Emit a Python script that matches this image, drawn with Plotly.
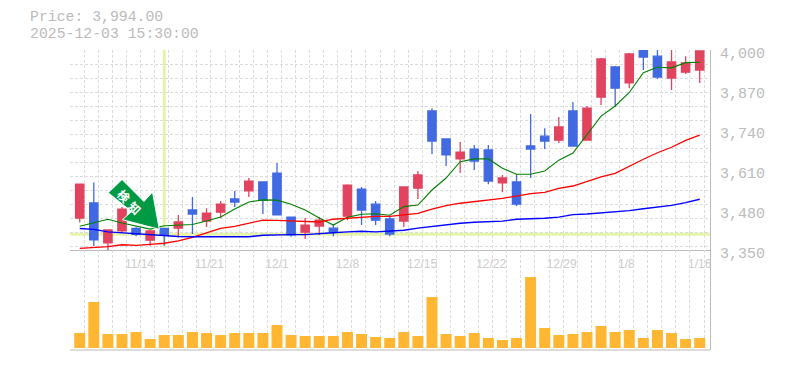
import plotly.graph_objects as go

dates = ["11/10","11/11","11/12","11/13","11/14","11/17","11/18","11/19","11/20","11/21",
         "11/25","11/26","11/27","11/28","12/1","12/2","12/3","12/4","12/5","12/8",
         "12/9","12/10","12/11","12/12","12/15","12/16","12/17","12/18","12/19","12/22",
         "12/23","12/24","12/25","12/26","12/29","12/30","1/5","1/6","1/7","1/8",
         "1/9","1/13","1/14","1/15","1/16"]
opens = [3454,3503,3373,3412,3420,3382,3420,3421,3480,3444,3473,3516,3542,3571,3600,3457,3408,3428,3421,3460,
         3548,3499,3451,3444,3551,3802,3711,3646,3678,3675,3568,3571,3688,3720,3707,3802,3707,3847,3945,3893,
         4003,3980,3909,3928,3935]
closes = [3564,3383,3415,3483,3401,3412,3398,3441,3467,3470,3499,3506,3574,3512,3464,3399,3431,3447,3408,3561,
          3480,3447,3402,3555,3594,3704,3659,3668,3639,3574,3584,3499,3678,3704,3750,3688,3811,3971,3876,3987,
          3977,3912,3961,3958,3997]
highs = [3566,3569,3415,3490,3425,3415,3421,3464,3522,3486,3509,3542,3584,3571,3633,3457,3454,3457,3434,3564,
         3555,3509,3460,3555,3607,3811,3711,3701,3691,3691,3594,3597,3792,3746,3782,3831,3818,3974,3948,3990,
         4016,4006,4006,3980,3997]
lows = [3439,3363,3348,3405,3395,3364,3364,3391,3402,3425,3454,3490,3522,3467,3464,3393,3386,3399,3395,3447,
        3431,3431,3395,3425,3516,3662,3623,3600,3610,3564,3538,3493,3584,3678,3698,3688,3707,3821,3815,3876,
        3935,3906,3870,3922,3893]
ma_short = [3427,3438,3450,3438,3428,3418,3429,3431,3433,3444,3457,3483,3506,3513,3512,3499,3480,3454,3431,3456,
            3466,3468,3463,3491,3496,3545,3584,3637,3646,3646,3616,3596,3596,3607,3642,3665,3727,3785,3818,3862,
            3926,3944,3942,3959,3960]
ma_mid = [3355,3357,3361,3367,3365,3368,3372,3380,3391,3406,3420,3427,3438,3447,3446,3444,3443,3441,3450,3453,
          3457,3459,3459,3464,3469,3483,3494,3502,3507,3512,3518,3525,3533,3537,3550,3558,3572,3588,3599,3623,
          3645,3666,3684,3706,3723]
ma_long = [3420,3417,3409,3406,3402,3399,3395,3394,3393,3393,3392,3393,3393,3398,3400,3400,3400,3404,3406,3409,
           3411,3409,3412,3414,3421,3427,3431,3437,3440,3442,3444,3450,3451,3453,3457,3465,3467,3470,3473,3478,
           3484,3489,3495,3504,3515]
volumes = [15,46,14,14,16,9,13,13,16,15,13,15,15,15,23,13,12,12,12,16,14,11,10,16,12,51,14,12,15,10,8,10,71,20,13,14,16,22,16,18,10,18,15,9,10]

price_ticks = [3350,3480,3610,3740,3870,4000]
price_labels = ["3,350","3,480","3,610","3,740","3,870","4,000"]
date_tick_pos = [4.24,9.2,14.0,19.0,24.3,29.2,34.2,38.8,44.0]
date_tick_labels = ["11/14","11/21","12/1","12/8","12/15","12/22","12/29","1/8","1/16"]
cross_index = 6
cross_price = 3401

W, H = 785, 370
L, R, T, B = 70, 75, 50, 20
PW, PH = W - L - R, H - T - B
def fx(px): return (px - L) / PW
def fy(py): return (H - B - py) / PH

xs = list(range(len(dates)))
fig = go.Figure()
for vals, col, lw in ((ma_short, "#008000", 1.1), (ma_mid, "#ff0000", 1.3), (ma_long, "#0000ff", 1.4)):
    fig.add_trace(go.Scatter(x=xs, y=vals, mode="lines", line=dict(color=col, width=lw), hoverinfo="skip", showlegend=False))
fig.add_trace(go.Candlestick(x=xs, open=opens, high=highs, low=lows, close=closes,
    increasing=dict(line=dict(color="#e2435f", width=1.3), fillcolor="#e2435f"),
    decreasing=dict(line=dict(color="#4169e1", width=1.3), fillcolor="#4169e1"),
    whiskerwidth=0, showlegend=False, hoverinfo="skip"))
fig.add_trace(go.Bar(x=xs, y=volumes, yaxis="y2", marker=dict(color="#ffb733", line=dict(width=0)), width=0.78, hoverinfo="skip", showlegend=False))

grid = "#dcdcdc"
axis = "#bbbbbb"
fig.update_layout(
    width=W, height=H, autosize=False, margin=dict(l=L, r=R, t=T, b=B),
    paper_bgcolor="white", plot_bgcolor="white", showlegend=False, boxgap=0.16, dragmode=False,
    xaxis=dict(range=[-0.69, 44.73], anchor="y", rangeslider=dict(visible=False), showgrid=False, zeroline=False, automargin=False,
               tickmode="array", tickvals=date_tick_pos, ticktext=date_tick_labels, ticks="outside", ticklen=3, tickcolor="rgba(0,0,0,0)",
               tickfont=dict(family="Liberation Sans", size=12, color="#cccccc"), showline=True, linecolor=axis, linewidth=1,
               minor=dict(tickmode="linear", tick0=-0.69, dtick=1, showgrid=True, gridcolor=grid, griddash="3px,2px", gridwidth=1, ticks="")),
    yaxis=dict(domain=[1/3, 1], range=[3350, 4000], side="right", anchor="x", showgrid=False, zeroline=False, automargin=False,
               tickmode="array", tickvals=price_ticks, ticktext=price_labels, ticks="", ticklabelstandoff=6, ticklabelshift=3,
               tickfont=dict(family="Liberation Mono", size=15, color="#bbbbbb"), showline=True, linecolor=axis, linewidth=1,
               minor=dict(tickmode="linear", tick0=4000, dtick=45.5, showgrid=True, gridcolor=grid, griddash="3px,2px", gridwidth=1, ticks="")),
    yaxis2=dict(domain=[0, 1/3], range=[-2, 98], side="right", anchor="x", showgrid=False, zeroline=False, automargin=False,
                showticklabels=False, ticks="", showline=True, linecolor=axis, linewidth=1),
)
arrow_pts = [(108.3,192.8),(122,179.5),(144,201.5),(152.5,192),(159.3,229.3),(122.5,219.7),(131.5,211.5)]
arrow_path = "M " + " L ".join(f"{fx(a):.4f} {fy(b):.4f}" for a, b in arrow_pts) + " Z"
fig.update_layout(shapes=[
    dict(type="line", xref="x", yref="y", x0=cross_index, x1=cross_index, y0=3357, y1=4000, line=dict(color="#e4f5a8", width=3), layer="below"),
    dict(type="line", xref="x", yref="y", x0=-0.69, x1=44.73, y0=cross_price, y1=cross_price, line=dict(color="#e4f5a8", width=3), layer="below"),
    dict(type="line", xref="paper", yref="paper", x0=0, x1=1, y0=0, y1=0, line=dict(color=axis, width=1), layer="above"),
    dict(type="path", xref="paper", yref="paper", path=arrow_path, fillcolor="#009944", line=dict(color="white", width=1), layer="above"),
])
notes = [
    dict(text="Price: 3,994.00", x=fx(28), y=fy(17.5), xanchor="left", size=14.8, fam="Liberation Mono", col="#bbbbbb", ang=0),
    dict(text="2025-12-03 15:30:00", x=fx(28), y=fy(33.5), xanchor="left", size=14.8, fam="Liberation Mono", col="#bbbbbb", ang=0),
    dict(text="<b>検</b>", x=fx(124), y=fy(195.7), xanchor="center", size=12, fam="Noto Sans CJK JP", col="white", ang=45),
    dict(text="<b>知</b>", x=fx(135), y=fy(207.7), xanchor="center", size=12, fam="Noto Sans CJK JP", col="white", ang=45),
]
fig.update_layout(annotations=[dict(text=n["text"], x=n["x"], y=n["y"], xref="paper", yref="paper", xanchor=n["xanchor"], yanchor="middle",
    showarrow=False, textangle=n["ang"], font=dict(family=n["fam"], size=n["size"], color=n["col"])) for n in notes])
fig.write_html("out.html", config=dict(displayModeBar=False, staticPlot=True),
               post_script="document.body.style.margin='0';document.documentElement.style.overflow='hidden';")
